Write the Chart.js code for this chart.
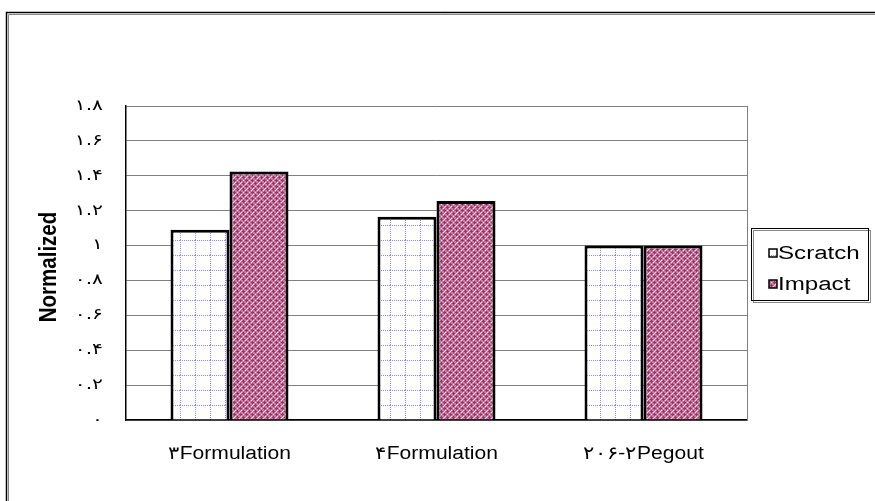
<!DOCTYPE html>
<html>
<head>
<meta charset="utf-8">
<script src="https://cdn.jsdelivr.net/npm/chart.js@4.4.0/dist/chart.umd.min.js"></script>
<style>
  body{margin:0;background:#fff;}
  #wrap{position:relative;width:875px;height:501px;}
</style>
</head>
<body>
<div id="wrap"><canvas id="chart" width="875" height="501"></canvas></div>
<script>
// data
const categories = ["۳Formulation", "۴Formulation", "۲۰۶-۲Pegout"];
const seriesNames = ["Scratch", "Impact"];
const scratchValues = [1.09, 1.165, 1.0];
const impactValues = [1.425, 1.255, 1.0];
const yTickLabels = ["۰", "۰.۲", "۰.۴", "۰.۶", "۰.۸", "۱", "۱.۲", "۱.۴", "۱.۶", "۱.۸"];
const yTitle = "Normalized";

const FONT = "'Liberation Sans', Arial, sans-serif";

// fill patterns
function scratchPattern(ctx){
  const c = document.createElement("canvas");
  c.width = 15; c.height = 15;
  const g = c.getContext("2d");
  g.fillStyle = "#fff";
  g.fillRect(0,0,15,15);
  g.fillStyle = "#8a8aff";
  for(let i=0;i<15;i+=2){
    g.fillRect(0,i,1,1);
    g.fillRect(i,0,1,1);
  }
  return ctx.createPattern(c, "repeat");
}
function impactPattern(ctx){
  const c = document.createElement("canvas");
  c.width = 6; c.height = 6;
  const g = c.getContext("2d");
  g.fillStyle = "#c77a9f";
  g.fillRect(0,0,6,6);
  g.fillStyle = "#993366";
  [[3,2],[2,3],[3,3],[4,3],[3,4],[0,0],[1,0],[0,1],[5,0],[0,5]].forEach(p=>g.fillRect(p[0],p[1],1,1));
  g.fillStyle = "#f2dce8";
  [[3,0],[0,3],[1,2],[5,4]].forEach(p=>g.fillRect(p[0],p[1],1,1));
  return ctx.createPattern(c, "repeat");
}

const canvas = document.getElementById("chart");
const ctx0 = canvas.getContext("2d");
const fills = [scratchPattern(ctx0), impactPattern(ctx0)];

// text is a bit wider than normal in the reference
function wideText(c, txt, x, y, align, sx){
  c.save();
  c.translate(x, y);
  c.scale(sx, 1);
  c.textAlign = align;
  c.fillText(txt, 0, 0);
  c.restore();
}

// background, outer frame, tick labels, axis title, legend
const decor = {
  id: "decor",
  beforeDraw(chart){
    const c = chart.ctx;
    c.save();
    c.fillStyle = "#fff";
    c.fillRect(0,0,chart.width,chart.height);
    c.strokeStyle = "#888";
    c.lineWidth = 1;
    c.beginPath();
    c.moveTo(8.5, chart.height); c.lineTo(8.5, 14.5); c.lineTo(chart.width, 14.5);
    c.stroke();
    c.strokeStyle = "#000";
    c.lineWidth = 1.5;
    c.beginPath();
    c.moveTo(6.5, chart.height); c.lineTo(6.5, 12.5); c.lineTo(chart.width, 12.5);
    c.stroke();
    c.restore();
  },
  beforeDatasetsDraw(chart){
    const a = chart.chartArea, c = chart.ctx;
    c.save();
    c.strokeStyle = "#808080";
    c.lineWidth = 1;
    c.beginPath();
    c.moveTo(a.right+0.5, a.top); c.lineTo(a.right+0.5, a.bottom);
    c.stroke();
    c.restore();
  },
  afterDraw(chart){
    const c = chart.ctx, a = chart.chartArea;
    const xs = chart.scales.x, ys = chart.scales.y;
    c.save();
    c.fillStyle = "#000";
    c.textBaseline = "middle";

    // y tick labels
    c.font = "15px 'DejaVu Sans', sans-serif";
    ys.ticks.forEach((t, i)=>{
      wideText(c, yTickLabels[i], 103, ys.getPixelForValue(t.value), "right", 1.35);
    });

    // x tick labels
    c.font = "18px " + FONT;
    categories.forEach((lab, i)=>{
      wideText(c, lab, xs.getPixelForTick(i), 454, "center", 1.17);
    });
    c.restore();

    // y title
    c.save();
    c.translate(49, (a.top + a.bottom)/2 + 4);
    c.rotate(-Math.PI/2);
    c.scale(1, 1.15);
    c.font = "bold 20.5px " + FONT;
    c.fillStyle = "#000";
    c.textAlign = "center";
    c.textBaseline = "middle";
    c.fillText(yTitle, 0, 0);
    c.restore();

    // legend
    const lx = 751, ly = 228, lw = 117, lh = 72;
    c.save();
    c.fillStyle = "#fff";
    c.fillRect(lx, ly, lw, lh);
    c.strokeStyle = "#888";
    c.lineWidth = 1;
    c.strokeRect(lx+2.5, ly+2.5, lw, lh);
    c.strokeStyle = "#000";
    c.strokeRect(lx+0.5, ly+0.5, lw, lh);
    c.font = "18px " + FONT;
    c.textBaseline = "middle";
    seriesNames.forEach((name, i)=>{
      const y = ly + 25 + i*31;
      c.fillStyle = fills[i];
      c.fillRect(lx+18, y-4, 8, 8);
      c.strokeStyle = "#000";
      c.lineWidth = 1.5;
      c.strokeRect(lx+18, y-4, 8, 8);
      c.fillStyle = "#000";
      wideText(c, name, lx+27, y+1, "left", 1.34);
    });
    c.restore();
  }
};

new Chart(canvas, {
  type: "bar",
  data: {
    labels: categories,
    datasets: [
      { label: seriesNames[0], data: scratchValues, backgroundColor: fills[0], borderColor: "#000", borderWidth: 3, borderSkipped: "bottom" },
      { label: seriesNames[1], data: impactValues, backgroundColor: fills[1], borderColor: "#000", borderWidth: 3, borderSkipped: "bottom" }
    ]
  },
  options: {
    responsive: false,
    animation: false,
    devicePixelRatio: 1,
    layout: { padding: { left: 0, top: 106, right: 128, bottom: 0 } },
    plugins: { legend: { display: false }, tooltip: { enabled: false } },
    datasets: { bar: { categoryPercentage: 0.57, barPercentage: 1 } },
    scales: {
      x: {
        grid: { display: false, drawTicks: false },
        border: { color: "#000", width: 1.5 },
        ticks: { display: false },
        afterFit(s){ s.height = 81; }
      },
      y: {
        min: 0, max: 1.8,
        grid: { color: "#808080", lineWidth: 1, drawTicks: false },
        border: { color: "#000", width: 1.5 },
        ticks: { stepSize: 0.2, display: false },
        afterFit(s){ s.width = 126; }
      }
    }
  },
  plugins: [decor]
});
</script>
</body>
</html>
